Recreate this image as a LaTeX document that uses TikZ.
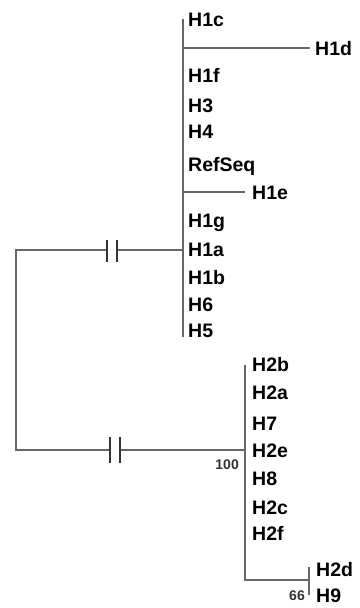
\documentclass[tikz,border=0pt]{standalone}
\usepackage{fontspec}
\setmainfont{Liberation Sans}
\begin{document}
\begin{tikzpicture}[x=1pt,y=-1pt,
  branch/.style={draw=black!60,line width=1.6pt},
  brk/.style={draw=black!80,line width=1.6pt},
  lbl/.style={anchor=west,inner sep=0pt,text height=14pt,text depth=0pt,font=\fontsize{19.5}{20}\selectfont\bfseries},
  boot/.style={anchor=east,inner sep=0pt,text height=10pt,text depth=0pt,text=black!80,font=\fontsize{14}{15}\selectfont\bfseries}]
\useasboundingbox (0,0) rectangle (359,608);
% labels cluster 1
\node[lbl] (H1c) at (188,19) {H1c};
\node[lbl] (H1d) at (315,48) {H1d};
\node[lbl] (H1f) at (188,75) {H1f};
\node[lbl] (H3) at (188,105) {H3};
\node[lbl] (H4) at (188,131) {H4};
\node[lbl] (RefSeq) at (188,164) {RefSeq};
\node[lbl] (H1e) at (252,192) {H1e};
\node[lbl] (H1g) at (188,220) {H1g};
\node[lbl] (H1a) at (188,249) {H1a};
\node[lbl] (H1b) at (188,277) {H1b};
\node[lbl] (H6) at (188,304) {H6};
\node[lbl] (H5) at (188,330) {H5};
% labels cluster 2
\node[lbl] (H2b) at (252,364) {H2b};
\node[lbl] (H2a) at (252,392) {H2a};
\node[lbl] (H7) at (252,423) {H7};
\node[lbl] (H2e) at (252,450) {H2e};
\node[lbl] (H8) at (252,478) {H8};
\node[lbl] (H2c) at (252,507) {H2c};
\node[lbl] (H2f) at (252,533) {H2f};
\node[lbl] (H2d) at (316,569) {H2d};
\node[lbl] (H9) at (316,595) {H9};
\node[boot] (b100) at (239,464) {100};
\node[boot] (b66) at (305,595) {66};
% junction coordinates
\coordinate (c1top) at (183,19);
\coordinate (c1bot) at (183,337);
\coordinate (c1d) at (183,48);
\coordinate (c1e) at (183,192);
\coordinate (c1mid) at (183,250);
\coordinate (rtop) at (16,250);
\coordinate (rbot) at (16,450);
\coordinate (c2top) at (245,365);
\coordinate (c2mid) at (245,450);
\coordinate (c2bot) at (245,580);
\coordinate (c3) at (309,580);
\coordinate (c3top) at (309,567);
\coordinate (c3bot) at (309,595);
% cluster 1
\draw[branch] (c1top) -- (c1bot);
\draw[branch] (c1d) -- (H1d.west -| 310,0);
\draw[branch] (c1e) -- (H1e.west -| 245,0);
% root with breaks
\draw[branch] (c1mid) -- (117,250) (107,250) -- (rtop) -- (rbot) -- (110,450) (120,450) -- (c2mid);
\draw[brk] (107,240) -- (107,262) (117,240) -- (117,262);
\draw[brk] (110,437) -- (110,463) (120,437) -- (120,463);
% cluster 2
\draw[branch] (c2top) -- (c2bot) -- (c3);
\draw[branch] (c3top) -- (c3bot);
\end{tikzpicture}
\end{document}
